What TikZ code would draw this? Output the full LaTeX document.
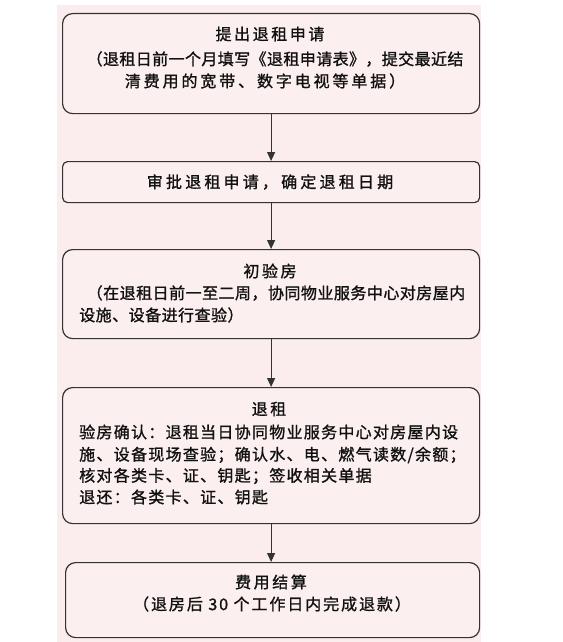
\documentclass[tikz,border=0pt]{standalone}
\usepackage{fontspec}
\newfontfamily\cjk[FakeBold=1.2]{Noto Sans CJK SC}
\usetikzlibrary{arrows.meta}
\definecolor{bgpink}{HTML}{FBEDED}
\definecolor{boxpink}{HTML}{FCEFEF}
\definecolor{edgec}{HTML}{333333}
\definecolor{textc}{HTML}{111111}
\newcommand\lsp[1]{\addfontfeature{LetterSpace=#1}}
\tikzset{
  box/.style={draw=edgec, line width=1.2pt, fill=boxpink, rounded corners=10pt, inner sep=0pt, anchor=north west},
  txt/.style={font=\cjk\fontsize{16}{20}\selectfont, text=textc, inner sep=0pt},
  arr/.style={draw=edgec, line width=1.2pt, -{Triangle[length=9pt,width=8pt]}}
}
\begin{document}
\begin{tikzpicture}[x=1pt,y=-1pt]
\useasboundingbox (0,0) rectangle (562,642);
\fill[bgpink] (57,5) rectangle (481,642);

\node[box, minimum width=417pt, minimum height=100pt] (b1) at (62,13) {};
\node[box, rounded corners=5pt, minimum width=417pt, minimum height=41pt] (b2) at (62,161) {};
\node[box, minimum width=417pt, minimum height=89pt] (b3) at (62,249) {};
\node[box, minimum width=417pt, minimum height=136pt] (b4) at (62,387) {};
\node[box, minimum width=414pt, minimum height=75pt] (b5) at (65,562) {};

% box 1
\node[txt] (t11) at (270,34) {\lsp{16}提出退租申请};
\node[txt] (t12) at (275,59) {\lsp{2.5}（退租日前一个月填写《退租申请表》，提交最近结};
\node[txt] (t13) at (265,81) {\lsp{18}清费用的宽带、数字电视等单据）};
% box 2
\node[txt] (t21) at (270,182) {\lsp{20}审批退租申请，确定退租日期};
% box 3
\node[txt] (t31) at (270,271) {\lsp{16}初验房};
\node[txt] (t32) at (276,293) {\lsp{3}（在退租日前一至二周，协同物业服务中心对房屋内};
\node[txt, anchor=west] (t33) at (79,315) {\lsp{3}设施、设备进行查验）};
% box 4
\node[txt] (t41) at (269,409) {\lsp{16}退租};
\node[txt, anchor=west] (t42) at (79,432) {\lsp{8}验房确认：退租当日协同物业服务中心对房屋内设};
\node[txt, anchor=west] (t43) at (79,455) {\lsp{8}施、设备现场查验；确认水、电、燃气读数/余额；};
\node[txt, anchor=west] (t44) at (79,476) {\lsp{8}核对各类卡、证、钥匙；签收相关单据};
\node[txt, anchor=west] (t45) at (79,497) {\lsp{8}退还：各类卡、证、钥匙};
% box 5
\node[txt] (t51) at (271,582) {\lsp{16}费用结算};
\node[txt] (t52) at (272,604) {\lsp{12}（退房后 30 个工作日内完成退款）};

\draw[arr] (b1.south) -- (b2.north);
\draw[arr] (b2.south) -- (b3.north);
\draw[arr] (b3.south) -- (b4.north);
\draw[arr] (b4.south) -- (b4.south |- b5.north);
\end{tikzpicture}
\end{document}
